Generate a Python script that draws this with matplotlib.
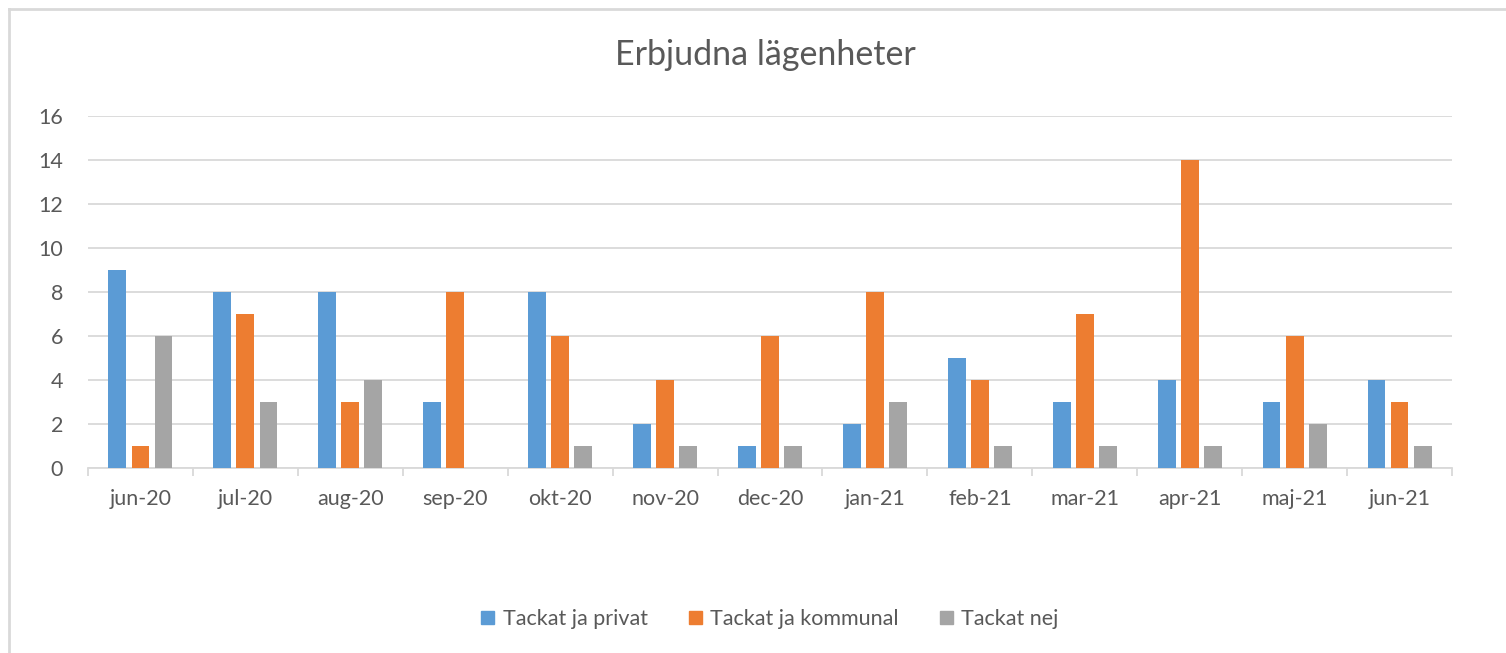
import matplotlib
matplotlib.use("Agg")
import matplotlib.pyplot as plt
from matplotlib.lines import Line2D
import numpy as np

plt.rcParams['font.family'] = ['Lato', 'DejaVu Sans']

categories = ["jun-20", "jul-20", "aug-20", "sep-20", "okt-20", "nov-20", "dec-20",
              "jan-21", "feb-21", "mar-21", "apr-21", "maj-21", "jun-21"]
privat = [9, 8, 8, 3, 8, 2, 1, 2, 5, 3, 4, 3, 4]
kommunal = [1, 7, 3, 8, 6, 4, 6, 8, 4, 7, 14, 6, 3]
nej = [6, 3, 4, 0, 1, 1, 1, 3, 1, 1, 1, 2, 1]
series_names = ["Tackat ja privat", "Tackat ja kommunal", "Tackat nej"]
colors = ["#5B9BD5", "#ED7D31", "#A5A5A5"]
yticks = [0, 2, 4, 6, 8, 10, 12, 14, 16]

fig = plt.figure(figsize=(15.06, 6.53), dpi=100)
ax = fig.add_axes([88/1506, 1 - 468/653, (1452-88)/1506, (468-116)/653])

x = np.arange(len(categories))
w = 0.17
step = 0.22
for i, (vals, name, c) in enumerate(zip([privat, kommunal, nej], series_names, colors)):
    ax.bar(x + (i - 1) * step, vals, width=w, color=c, label=name, zorder=3)

ax.set_xlim(-0.5, len(categories) - 0.5)
ax.set_ylim(0, 16)
ax.set_yticks(yticks)
ax.grid(axis='y', color='#D9D9D9', linewidth=1.3, zorder=0)
for s in ['top', 'right', 'left']:
    ax.spines[s].set_visible(False)
ax.spines['bottom'].set_color('#D9D9D9')
ax.spines['bottom'].set_linewidth(1.3)
ax.set_xticks(x)
ax.set_xticklabels(categories)
ax.tick_params(axis='x', length=0, pad=15, labelsize=15.5, labelcolor='#595959')
ax.tick_params(axis='y', length=0, pad=18, labelsize=15.5, labelcolor='#595959')
ax.set_xticks(np.arange(len(categories) + 1) - 0.5, minor=True)
ax.tick_params(axis='x', which='minor', length=6, width=1.3, color='#D9D9D9')

fig.text(765/1506, 1 - 55/653, "Erbjudna lägenheter", ha='center', va='center',
         fontsize=24.5, color='#595959')

handles = [plt.Rectangle((0, 0), 1, 1, color=c) for c in colors]
fig.legend(handles, series_names, loc='center', bbox_to_anchor=(770/1506, 1 - 619/653),
           ncol=3, frameon=False, fontsize=15.5, labelcolor='#595959',
           handlelength=0.6, handleheight=0.6, handletextpad=0.4, columnspacing=1.9)

# outer border (top and left visible)
fig.add_artist(Line2D([9/1506, 1], [1 - 9/653, 1 - 9/653], transform=fig.transFigure,
                      color='#D9D9D9', linewidth=2))
fig.add_artist(Line2D([9/1506, 9/1506], [0, 1 - 9/653], transform=fig.transFigure,
                      color='#D9D9D9', linewidth=2))

fig.savefig("out.png", dpi=100)
